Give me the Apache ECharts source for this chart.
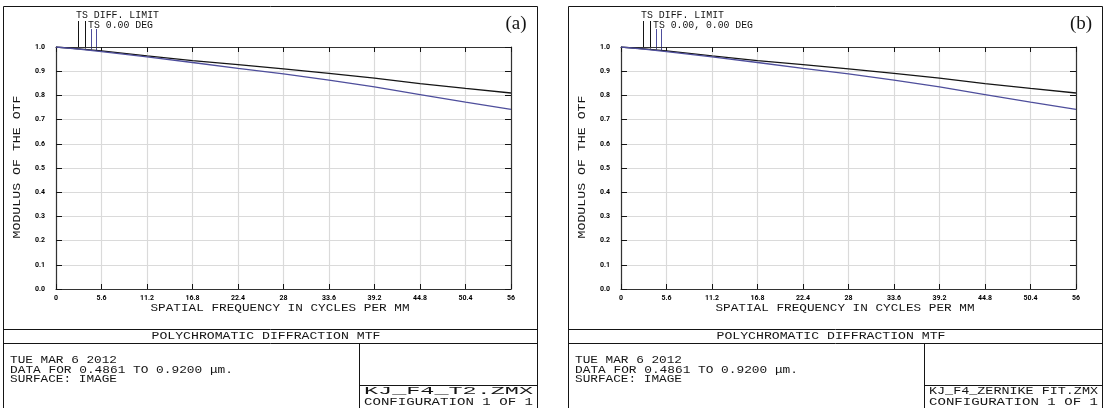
<!DOCTYPE html>
<html>
<head>
<meta charset="utf-8">
<script src="https://cdn.jsdelivr.net/npm/echarts@6/dist/echarts.min.js"></script>
<style>
  html, body { margin: 0; padding: 0; background: #fff; }
  #mtf { width: 1112px; height: 408px; }
</style>
</head>
<body>
<div id="mtf"></div>
<script>
// spatial frequency (cycles/mm) where the curves were read
var freq = [0, 2.8, 5.6, 11.2, 16.8, 22.4, 28, 33.6, 39.2, 44.8, 50.4, 56];

// (a) KJ_F4_T2.ZMX
var diffLimitA = [1.0, 0.992, 0.984, 0.963, 0.944, 0.927, 0.910, 0.891, 0.871, 0.849, 0.829, 0.810];
var tsFieldA   = [1.0, 0.991, 0.981, 0.959, 0.936, 0.912, 0.889, 0.863, 0.835, 0.803, 0.772, 0.742];

// (b) KJ_F4_ZERNIKE FIT.ZMX
var diffLimitB = [1.0, 0.992, 0.984, 0.963, 0.944, 0.927, 0.910, 0.891, 0.871, 0.849, 0.829, 0.810];
var tsFieldB   = [1.0, 0.991, 0.981, 0.959, 0.936, 0.912, 0.889, 0.863, 0.835, 0.803, 0.772, 0.742];

var xTickLabels = ['0', '5.6', '11.2', '16.8', '22.4', '28', '33.6', '39.2', '44.8', '50.4', '56'];
var yTickLabels = ['0.0', '0.1', '0.2', '0.3', '0.4', '0.5', '0.6', '0.7', '0.8', '0.9', '1.0'];

var mono = '"Liberation Mono", "DejaVu Sans Mono", monospace';
var ink = '#151515';
var blue = '#4e4e9c';

var chart = echarts.init(document.getElementById('mtf'));

function pairs(xs, ys) {
    return xs.map(function (x, i) { return [x, ys[i]]; });
}

// canvas to measure text, so that each line can be stretched to the width of the original
var measureCtx = document.createElement('canvas').getContext('2d');
function txt(str, x, y, size, width, align, rot) {
    var font = size + 'px ' + mono;
    measureCtx.font = font;
    var w = measureCtx.measureText(str).width;
    return {
        type: 'text', x: x, y: y, silent: true,
        rotation: rot || 0,
        scaleX: width ? width / w : 1,
        style: {
            text: str, font: font, fill: ink,
            textAlign: align || 'left', textVerticalAlign: 'middle'
        }
    };
}
function seg(x1, y1, x2, y2, color) {
    return {
        type: 'line', silent: true,
        shape: { x1: x1, y1: y1, x2: x2, y2: y2 },
        style: { stroke: color || ink, lineWidth: 1 }
    };
}

// frame, title block and notes of one panel, dx = horizontal offset
function panel(dx, tag, legendText, legendWidth, fileName) {
    return [
        { type: 'rect', silent: true, shape: { x: 3.5 + dx, y: 6.5, width: 534, height: 420 },
          style: { fill: 'none', stroke: ink, lineWidth: 1 } },
        seg(3.5 + dx, 329.5, 537.5 + dx, 329.5),
        seg(3.5 + dx, 343.5, 537.5 + dx, 343.5),
        seg(359.5 + dx, 343.5, 359.5 + dx, 420),
        seg(359.5 + dx, 385.5, 537.5 + dx, 385.5),
        // legend ticks pointing down to the curves
        seg(78.5 + dx, 21, 78.5 + dx, 48),
        seg(85.5 + dx, 21, 85.5 + dx, 48.5),
        seg(91.5 + dx, 29, 91.5 + dx, 49.5, blue),
        seg(96.5 + dx, 29, 96.5 + dx, 50, blue),
        txt('TS DIFF. LIMIT', 76 + dx, 15, 10, 83),
        txt(legendText, 88 + dx, 25.5, 10, legendWidth),
        txt('MODULUS OF THE OTF', 17 + dx, 167, 11.5, 143, 'center', Math.PI / 2),
        txt('SPATIAL FREQUENCY IN CYCLES PER MM', 280 + dx, 308, 11.5, 259, 'center'),
        txt('POLYCHROMATIC DIFFRACTION MTF', 266 + dx, 336, 11.5, 229, 'center'),
        txt('TUE MAR 6 2012', 10 + dx, 360.5, 11, 107),
        txt('DATA FOR 0.4861 TO 0.9200 \u03bcm.', 10 + dx, 370.5, 11, 223),
        txt('SURFACE: IMAGE', 10 + dx, 379.5, 11, 107),
        txt(fileName, 364 + dx, 391, 11, 169),
        txt('CONFIGURATION 1 OF 1', 364 + dx, 402.5, 11, 169),
        { type: 'text', x: 516 + dx, y: 24, silent: true,
          style: { text: tag, font: '19px "Liberation Serif", "DejaVu Serif", serif', fill: ink,
                   textAlign: 'center', textVerticalAlign: 'middle' } }
    ];
}

function xAxisFor(grid, pos) {
    var main = pos === 'bottom';
    return {
        type: 'value', gridIndex: grid, position: pos,
        min: 0, max: 56, interval: 5.6,
        axisLine: { show: true, onZero: false, lineStyle: { color: '#333', width: 1.2 } },
        axisTick: { show: true, inside: true, length: 5, lineStyle: { color: ink } },
        splitLine: { show: main, lineStyle: { color: '#dadada', width: 1.2 } },
        axisLabel: {
            show: main, margin: 6, color: '#000', fontSize: 7, fontWeight: 'bold',
            fontFamily: 'Roboto, "DejaVu Sans", sans-serif',
            formatter: function (v) { return xTickLabels[Math.round(v / 5.6)]; }
        }
    };
}
function yAxisFor(grid, pos) {
    var main = pos === 'left';
    return {
        type: 'value', gridIndex: grid, position: pos,
        min: 0, max: 1, interval: 0.1,
        axisLine: { show: true, onZero: false, lineStyle: { color: '#333', width: 1.2 } },
        axisTick: { show: true, inside: true, length: 6, lineStyle: { color: ink } },
        splitLine: { show: main, lineStyle: { color: '#dadada', width: 1.2 } },
        axisLabel: {
            show: main, margin: 11, color: '#000', fontSize: 7, fontWeight: 'bold',
            fontFamily: 'Roboto, "DejaVu Sans", sans-serif',
            formatter: function (v) { return yTickLabels[Math.round(v * 10)]; }
        }
    };
}
function curve(name, xi, data, color) {
    return {
        name: name, type: 'line', xAxisIndex: xi, yAxisIndex: xi,
        data: data, symbol: 'none', smooth: false,
        lineStyle: { color: color, width: 1.3 }
    };
}

var option = {
    animation: false,
    backgroundColor: '#fff',
    grid: [
        { left: 56, top: 47, width: 455, height: 242 },
        { left: 621, top: 47, width: 455, height: 242 }
    ],
    xAxis: [xAxisFor(0, 'bottom'), xAxisFor(1, 'bottom'), xAxisFor(0, 'top'), xAxisFor(1, 'top')],
    yAxis: [yAxisFor(0, 'left'), yAxisFor(1, 'left'), yAxisFor(0, 'right'), yAxisFor(1, 'right')],
    series: [
        curve('TS DIFF. LIMIT', 0, pairs(freq, diffLimitA), ink),
        curve('TS 0.00 DEG', 0, pairs(freq, tsFieldA), blue),
        curve('TS DIFF. LIMIT', 1, pairs(freq, diffLimitB), ink),
        curve('TS 0.00, 0.00 DEG', 1, pairs(freq, tsFieldB), blue)
    ],
    graphic: panel(0, '(a)', 'TS 0.00 DEG', 65, 'KJ_F4_T2.ZMX')
        .concat(panel(565, '(b)', 'TS 0.00, 0.00 DEG', 100, 'KJ_F4_ZERNIKE FIT.ZMX'))
};

chart.setOption(option);
</script>
</body>
</html>
